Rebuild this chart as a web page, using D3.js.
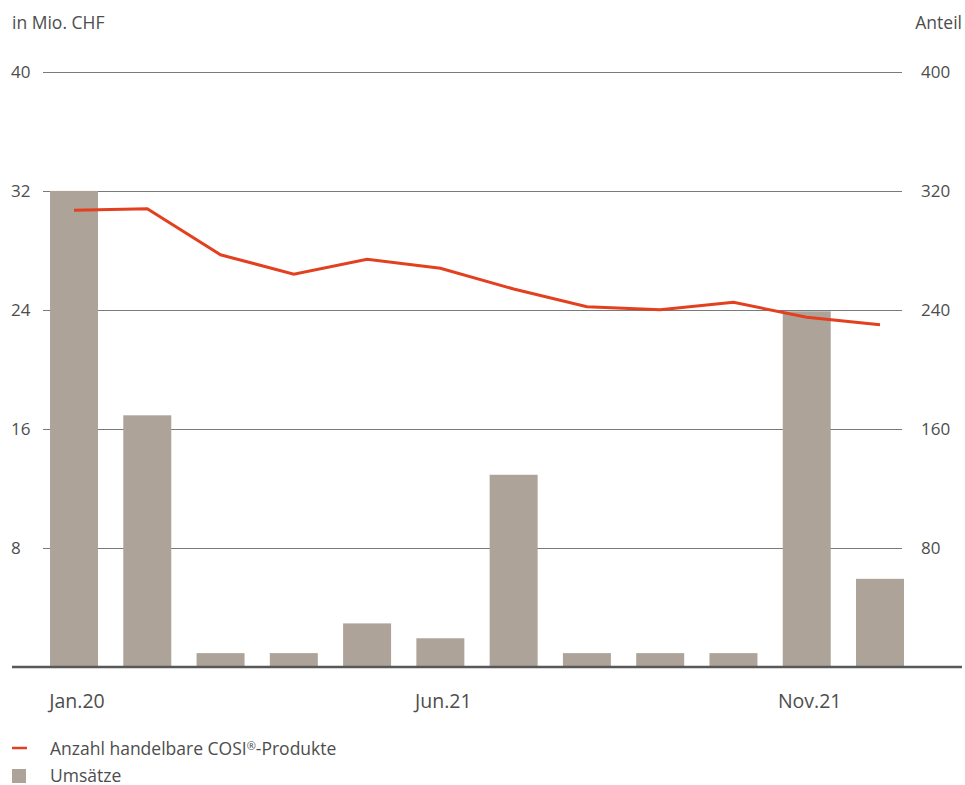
<!DOCTYPE html>
<html lang="de">
    <head>
        <meta charset="utf-8">
        <script type="text/javascript" src="https://cdn.jsdelivr.net/npm/d3@7"></script>
        <title>COSI Umsätze</title>
        <style>
          body { margin: 0; background: #fff; }
          text { font-family: "Open Sans", sans-serif; fill: #4d4d4d; }
        </style>
    </head>
    <body>
        <script type="text/javascript">
          // data
          var months = ["Jan.20", "", "", "", "", "Jun.21", "", "", "", "", "Nov.21", ""];
          var umsaetze = [32, 16.9, 0.9, 0.9, 2.9, 1.9, 12.9, 0.9, 0.9, 0.9, 23.9, 5.9];
          var anzahl = [307, 308, 277, 264, 274, 268, 254, 242, 240, 245, 235, 230];
          var leftTicks = [8, 16, 24, 32, 40];
          var rightTicks = [80, 160, 240, 320, 400];
          var legendLabels = ["Anzahl handelbare COSI®-Produkte", "Umsätze"];

          // size of svg and plot area
          var w = 965;
          var h = 785;
          var margin = {top: 72, left: 43, right: 63, bottom: 118.5};
          var barColor = "#ada398";
          var lineColor = "#e2401f";

          var svg = d3.select("body").append("svg")
                      .attr("width", w)
                      .attr("height", h);

          // scales
          var xscale = d3.scaleBand()
            .domain(d3.range(months.length))
            .range([50, 904])
            .paddingInner(0.345)
            .paddingOuter(0);
          var yleft = d3.scaleLinear()
            .domain([0, 40])
            .range([h - margin.bottom, margin.top]);
          var yright = d3.scaleLinear()
            .domain([0, 400])
            .range([h - margin.bottom, margin.top]);

          // gridlines with left and right tick labels
          var grid = svg.append("g");
          grid.selectAll("line")
            .data(leftTicks)
            .enter()
            .append("line")
            .attr("x1", margin.left)
            .attr("x2", w - margin.right)
            .attr("y1", function(d) { return Math.round(yleft(d)) + 0.5; })
            .attr("y2", function(d) { return Math.round(yleft(d)) + 0.5; })
            .attr("stroke", "#7a7a7a")
            .attr("stroke-width", 1);

          grid.selectAll("text.left")
            .data(leftTicks)
            .enter()
            .append("text")
            .attr("class", "left")
            .attr("x", 11)
            .attr("y", function(d) { return yleft(d); })
            .attr("dy", "0.36em")
            .style("font-size", "17px")
            .text(function(d) { return d; });

          grid.selectAll("text.right")
            .data(rightTicks)
            .enter()
            .append("text")
            .attr("class", "right")
            .attr("x", 921)
            .attr("y", function(d) { return yright(d); })
            .attr("dy", "0.36em")
            .style("font-size", "17px")
            .text(function(d) { return d; });

          // axis titles
          svg.append("text")
            .attr("x", 12)
            .attr("y", 29)
            .style("font-size", "17.5px")
            .text("in Mio. CHF");
          svg.append("text")
            .attr("x", 962)
            .attr("y", 29)
            .style("text-anchor", "end")
            .style("font-size", "17.5px")
            .text("Anteil");

          // bars
          svg.append("g")
            .selectAll("rect")
            .data(umsaetze)
            .enter()
            .append("rect")
            .attr("x", function(d, i) { return xscale(i); })
            .attr("y", function(d) { return yleft(d); })
            .attr("width", xscale.bandwidth())
            .attr("height", function(d) { return yleft(0) - yleft(d); })
            .attr("fill", barColor);

          // baseline
          svg.append("line")
            .attr("x1", 12)
            .attr("x2", 962)
            .attr("y1", yleft(0) + 0.5)
            .attr("y2", yleft(0) + 0.5)
            .attr("stroke", "#585858")
            .attr("stroke-width", 2.5);

          // line for number of products
          var line = d3.line()
            .x(function(d, i) { return xscale(i) + xscale.bandwidth() / 2; })
            .y(function(d) { return yright(d); });
          svg.append("path")
            .datum(anzahl)
            .attr("d", line)
            .attr("fill", "none")
            .attr("stroke", lineColor)
            .attr("stroke-width", 3);

          // x labels
          svg.append("g")
            .selectAll("text")
            .data(months)
            .enter()
            .append("text")
            .attr("x", function(d, i) { return xscale(i) + xscale.bandwidth() / 2 + 3; })
            .attr("y", 708)
            .style("text-anchor", "middle")
            .style("font-size", "19.5px")
            .text(function(d) { return d; });

          // legend
          var legend = svg.append("g");
          legend.append("line")
            .attr("x1", 12)
            .attr("x2", 27)
            .attr("y1", 748)
            .attr("y2", 748)
            .attr("stroke", lineColor)
            .attr("stroke-width", 2.5);
          legend.append("rect")
            .attr("x", 12)
            .attr("y", 769)
            .attr("width", 14)
            .attr("height", 14)
            .attr("fill", barColor);

          // legend texts, the ® is set smaller and raised
          var legendText = legend.selectAll("text")
            .data(legendLabels)
            .enter()
            .append("text")
            .attr("x", 50)
            .attr("y", function(d, i) { return 754.5 + i * 27.5; })
            .style("font-size", "17.5px");
          legendText.each(function(d) {
            var parts = d.split("®");
            var t = d3.select(this);
            t.append("tspan").text(parts[0]);
            if (parts.length > 1) {
              t.append("tspan")
                .attr("dy", -5)
                .style("font-size", "11px")
                .text("®");
              t.append("tspan")
                .attr("dy", 5)
                .text(parts[1]);
            }
          });
        </script>
    </body>
</html>
